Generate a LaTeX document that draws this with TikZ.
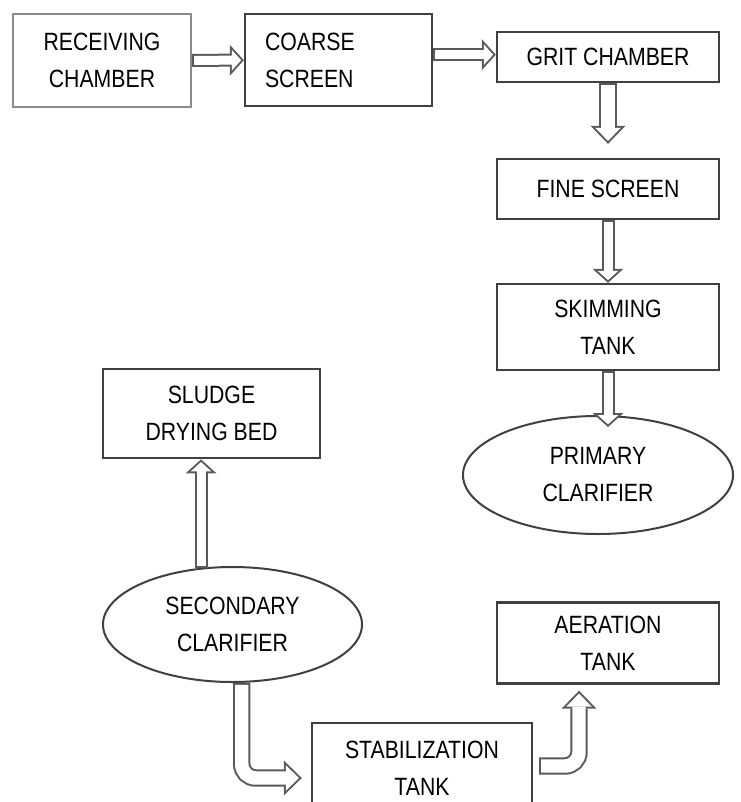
\documentclass[tikz,border=0pt]{standalone}
\usepackage{fontspec}
\setmainfont{Liberation Sans}[FakeStretch=0.85]
\usepackage{xcolor}
\definecolor{boxgrey}{RGB}{64,64,64}
\definecolor{palegrey}{RGB}{140,140,140}
\definecolor{arrgrey}{RGB}{90,90,90}
\usetikzlibrary{arrows.meta,shapes.geometric,calc}
\tikzset{
  box/.style={draw=boxgrey,line width=1.8pt,fill=white,align=center,inner sep=0pt,
    font=\fontsize{18.75pt}{27.75pt}\selectfont},
  faint/.style={box,draw=palegrey},
  oval/.style={box,ellipse,line width=1.5pt},
  pipe/.style={draw=white,line width=6.75pt,shorten <=1.5pt,shorten >=2pt,
    -{Triangle[length=7pt,width=15.5pt,line width=0pt]},
    preaction={draw=arrgrey,line width=9.75pt,shorten <=0pt,shorten >=0pt,
      -{Triangle[length=10.5pt,width=23.25pt,line width=0pt]}}},
  elbow/.style={draw=white,line width=10.1pt,rounded corners=10.5pt,shorten <=1.5pt,shorten >=2.15pt,
    -{Triangle[length=9.85pt,width=19.15pt,line width=0pt]},
    preaction={draw=arrgrey,line width=13.1pt,shorten <=0pt,shorten >=0pt,
      -{Triangle[length=13.5pt,width=26.25pt,line width=0pt]}}},
}

\begin{document}
\begin{tikzpicture}[x=0.75pt,y=-0.75pt]
    \clip (0,0) rectangle (741,802);
    % top row
    \node[faint,minimum width=133.5pt,minimum height=69.75pt] (recv) at (102,60.5) {RECEIVING\\CHAMBER};
    \node[box,align=left,text width=110.25pt,inner xsep=15pt,minimum height=69pt] (coarse) at (338.5,60) {COARSE\\SCREEN};
    \node[box,minimum width=166.5pt,minimum height=37.5pt] (grit) at (608,57) {GRIT CHAMBER};
    % right column
    \node[box,minimum width=166.5pt,minimum height=45pt] (fine) at (608,189) {FINE SCREEN};
    \node[box,minimum width=166.5pt,minimum height=64.5pt] (skim) at (608,327) {SKIMMING\\TANK};
    \node[oval,minimum width=202.5pt,minimum height=88.5pt] (prim) at (598,475) {PRIMARY\\CLARIFIER};
    % left and bottom
    \node[box,line width=2.1pt,minimum width=162.75pt,minimum height=66.75pt] (sludge) at (211.5,413.5) {SLUDGE\\DRYING BED};
    \node[oval,minimum width=194.25pt,minimum height=86.25pt] (sec) at (232.5,624.5) {SECONDARY\\CLARIFIER};
    \node[box,minimum width=166.5pt,minimum height=60.75pt] (aer) at (608,643) {AERATION\\TANK};
    \node[box,minimum width=165pt,minimum height=68.25pt] (stab) at (422,768.5) {STABILIZATION\\TANK};
    % free ends
    \coordinate (fineIn) at ($(fine.north)+(0,-14)$);
    \coordinate (primIn) at ($(skim.south |- prim.north)+(0,12)$);
    \coordinate (stabIn) at ($(stab.west)+(-9,9.5)$);
    \coordinate (stabOut) at ($(stab.east)+(6,-2.5)$);
    \coordinate (aerIn) at ($(aer.south)+(-29,6)$);
    % flow
    \draw[pipe] (recv)--(coarse);
    \draw[pipe] ([yshift=4pt]coarse.east)--([yshift=4pt]coarse.east -| grit.west);
    \draw[elbow] (grit)--(fineIn); \draw[pipe] (fine)--(skim); \draw[pipe] (skim)--(primIn);
    \draw[pipe] (sec.119)--(sec.119 |- sludge.south);
    \draw[elbow] (sec.-81) |- (stabIn);
    \draw[elbow] (stabOut) -| (aerIn);
  \end{tikzpicture}
\end{document}
